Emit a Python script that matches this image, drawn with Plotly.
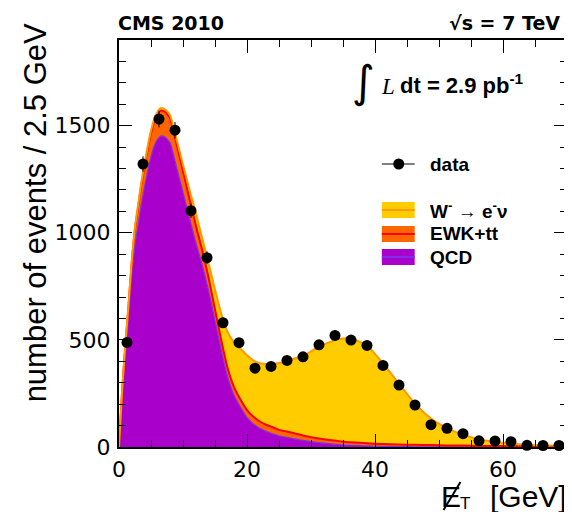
import numpy as np
import plotly.graph_objects as go

# ---------------- data ----------------
# bin centers of the data histogram (2.5 GeV bins)
data_x = [1.25, 3.75, 6.25, 8.75, 11.25, 13.75, 16.25, 18.75, 21.25, 23.75,
          26.25, 28.75, 31.25, 33.75, 36.25, 38.75, 41.25, 43.75, 46.25, 48.75,
          51.25, 53.75, 56.25, 58.75, 61.25, 63.75, 66.25, 68.75]
data_y = [488, 1321, 1531, 1479, 1103, 884, 580, 487, 368, 376,
          404, 421, 477, 521, 499, 474, 381, 289, 196, 104,
          87, 62, 29, 28, 25, 8, 7, 7]

# template curves (MET in GeV) -- component values
curve_x = [0, 0.5, 1, 1.5, 2, 2.5, 3, 3.5, 4, 4.5, 5, 5.5, 6, 6.5, 7, 7.5, 8,
           9, 10, 11, 12, 13, 14, 15, 16, 17, 18, 19, 20, 21, 22, 23, 24, 25,
           26.25, 28.75, 31.25, 33.75, 35, 36.25, 38.75, 41.25, 43.75, 46.25,
           48.75, 51.25, 53.75, 56.25, 58.75, 61.25, 63.75, 66.25, 68.75, 70]
qcd = [0, 250, 440, 615, 800, 945, 1040, 1135, 1215, 1290, 1355, 1405, 1435, 1452, 1450, 1438, 1418,
       1305, 1188, 1070, 955, 850, 730, 590, 450, 325, 240, 185, 138, 108, 87, 73, 62, 52,
       45, 31, 20, 13, 10, 8, 5, 3, 2, 1, 1, 0.5, 0.5, 0, 0, 0, 0, 0, 0, 0]
ewk = [0, 18, 33, 48, 62, 72, 82, 90, 97, 104, 110, 114, 117, 118, 118, 117, 115,
       110, 100, 90, 80, 70, 60, 52, 45, 40, 37, 35, 34, 33, 32, 31, 30, 28,
       27, 23, 20, 17, 15, 14, 12, 11, 10, 9, 8, 7, 6, 5, 4.5, 4, 3.5, 3, 2.5, 2]
wenu = [0, 3, 6, 8, 10, 11, 12, 12, 12, 12, 12, 12, 12, 12, 12, 13, 14,
        20, 30, 42, 57, 55, 68, 92, 125, 170, 210, 238, 256, 263, 272, 283, 296, 312,
        330, 372, 428, 469, 482, 485, 457, 376, 283, 192, 124, 81, 51, 31, 18.5, 13, 7.5, 5, 3.5, 3]

x_ticks = [0, 20, 40, 60]
y_ticks = [0, 500, 1000, 1500]

legend_labels = ["data", "W<sup>-</sup> \u2192 e<sup>-</sup>\u03bd", "EWK+tt", "QCD"]

# ---------------- styles ----------------
C_QCD, L_QCD = "#aa00cc", "#7f2ee6"
C_EWK, L_EWK = "#ff6600", "#ff0000"
C_W, L_W = "#ffcc00", "#ff9900"

OFF = 8                      # default body margin of the html page
W_PX, H_PX = 572 - OFF, 512 - OFF
# plot area in page pixels: x 119..569.5, y 40..447
ML, MR, MT, MB = 119 - OFF, 3, 40 - OFF, 512 - 447
PW = W_PX - ML - MR
PH = H_PX - MT - MB


def px(x):
    """page pixel x -> paper x"""
    return (x - OFF - ML) / PW


def py(y):
    """page pixel y -> paper y"""
    return (H_PX - MB - (y - OFF)) / PH


lvl1 = np.array(qcd, dtype=float)
lvl2 = lvl1 + np.array(ewk, dtype=float)
lvl3 = lvl2 + np.array(wenu, dtype=float)

fig = go.Figure()
fig.add_trace(go.Scatter(x=curve_x, y=lvl1, mode="lines", fill="tozeroy",
                         fillcolor=C_QCD, line=dict(color=L_QCD, width=1.2, shape="spline", smoothing=0.6),
                         showlegend=False, hoverinfo="skip"))
fig.add_trace(go.Scatter(x=curve_x, y=lvl2, mode="lines", fill="tonexty",
                         fillcolor=C_EWK, line=dict(color=L_EWK, width=2, shape="spline", smoothing=0.6),
                         showlegend=False, hoverinfo="skip"))
fig.add_trace(go.Scatter(x=curve_x, y=lvl3, mode="lines", fill="tonexty",
                         fillcolor=C_W, line=dict(color=L_W, width=2, shape="spline", smoothing=0.6),
                         showlegend=False, hoverinfo="skip"))
fig.add_trace(go.Scatter(x=data_x, y=data_y, mode="markers",
                         marker=dict(color="black", size=11, symbol="circle"),
                         error_y=dict(type="data", array=np.sqrt(np.array(data_y, dtype=float)),
                                      color="black", thickness=1, width=0),
                         cliponaxis=False, showlegend=False))

tickfont = dict(family="DejaVu Sans", size=22, color="black")
fig.update_xaxes(range=[0, 70], tickvals=x_ticks, ticks="inside", ticklen=13, tickwidth=1,
                 tickcolor="black", showline=True, linewidth=2, linecolor="black",
                 mirror="allticks", showgrid=False, zeroline=False, tickfont=tickfont,
                 ticklabelstandoff=2,
                 minor=dict(dtick=5, tick0=0, ticks="inside", ticklen=7, tickcolor="black", showgrid=False))
fig.update_yaxes(range=[0, 1900], tickvals=y_ticks, ticks="inside", ticklen=13, tickwidth=1,
                 tickcolor="black", showline=True, linewidth=2, linecolor="black",
                 mirror="allticks", showgrid=False, zeroline=False, tickfont=tickfont,
                 ticklabelstandoff=2,
                 minor=dict(dtick=100, tick0=0, ticks="inside", ticklen=7, tickcolor="black", showgrid=False))


def text(t, x, y, family, size, xanchor="center", angle=0):
    return dict(text=t, x=px(x), y=py(y), xref="paper", yref="paper", showarrow=False,
                xanchor=xanchor, yanchor="middle", textangle=angle,
                font=dict(family=family, size=size, color="black"))


ann = []
ann.append(text("number of events / 2.5 GeV", 35, 213, "Liberation Sans", 31, angle=-90))
# x-axis title: E-slash, subscript T, [GeV]
ann.append(text("E", 440, 496, "Liberation Sans", 30, xanchor="left"))
ann.append(text("T", 460, 503, "Liberation Sans", 17, xanchor="left"))
ann.append(text("[GeV]", 571, 496, "Liberation Sans", 30, xanchor="right"))
ann.append(text("<b>CMS 2010</b>", 116, 23, "DejaVu Sans", 19, xanchor="left"))
ann.append(text("<b>\u221as = 7 TeV</b>", 564, 23, "DejaVu Sans", 19, xanchor="right"))
ann.append(text("\u222b", 365, 82, "DejaVu Sans", 44))
ann.append(text("<i>L</i>", 389, 86, "Liberation Serif", 23))
ann.append(text("<b>dt = 2.9 pb<sup>-1</sup></b>", 399, 84, "Liberation Sans", 22, xanchor="left"))

legend_y = [164, 210, 234, 257]
for lab, yy in zip(legend_labels, legend_y):
    ann.append(text("<b>" + lab + "</b>", 429, yy, "Liberation Sans", 19, xanchor="left"))

shapes = []
# slash through the E of the x title
shapes.append(dict(type="line", xref="paper", yref="paper", x0=px(445), x1=px(462),
                   y0=py(510), y1=py(482), line=dict(color="black", width=2)))
# data legend entry
shapes.append(dict(type="line", xref="paper", yref="paper", x0=px(383), x1=px(416),
                   y0=py(164), y1=py(164), line=dict(color="black", width=1)))
shapes.append(dict(type="circle", xref="paper", yref="paper", x0=px(394.5), x1=px(405.5),
                   y0=py(169.5), y1=py(158.5), fillcolor="black", line=dict(color="black", width=0)))
for (fc, lc), yy in zip([(C_W, L_W), (C_EWK, L_EWK), (C_QCD, L_QCD)], legend_y[1:]):
    shapes.append(dict(type="rect", xref="paper", yref="paper", x0=px(383), x1=px(416),
                       y0=py(yy + 8), y1=py(yy - 8), fillcolor=fc, line=dict(width=0)))
    shapes.append(dict(type="line", xref="paper", yref="paper", x0=px(383), x1=px(416),
                       y0=py(yy), y1=py(yy), line=dict(color=lc, width=2)))

fig.update_layout(width=W_PX, height=H_PX, margin=dict(l=ML, r=MR, t=MT, b=MB),
                  plot_bgcolor="white", paper_bgcolor="white",
                  annotations=ann, shapes=shapes, showlegend=False)

fig.write_html("out.html")
